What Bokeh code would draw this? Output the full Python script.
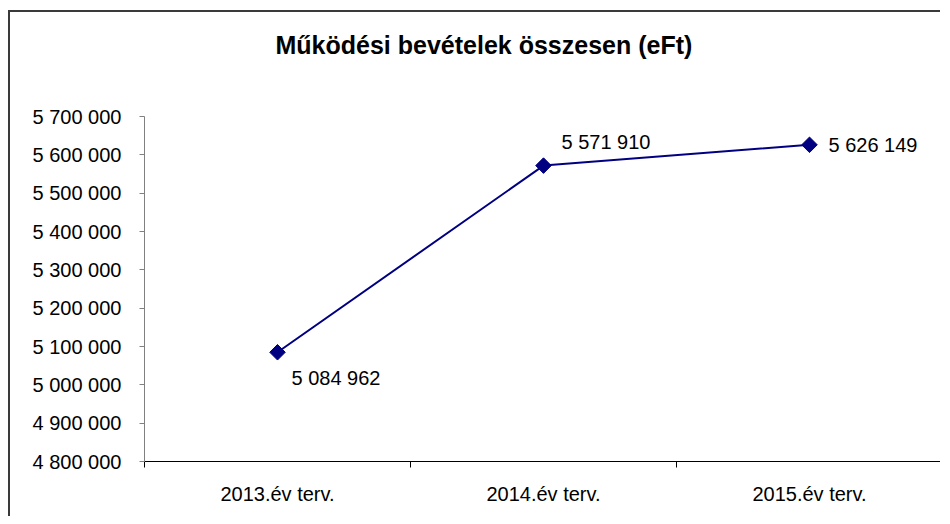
from bokeh.plotting import figure
from bokeh.models import (ColumnDataSource, FixedTicker, LabelSet, Title,
                          CustomJSTickFormatter, Range1d)
from bokeh.core.properties import value
from bokeh.embed import file_html
from bokeh.resources import INLINE
import math

# ---- data ----
categories = ["2013.év terv.", "2014.év terv.", "2015.év terv."]
values = [5084962, 5571910, 5626149]
y_ticks = [4800000, 4900000, 5000000, 5100000, 5200000, 5300000,
           5400000, 5500000, 5600000, 5700000]
title_text = "Működési bevételek összesen (eFt)"

# ---- styles ----
label_dx = [14, 18, 19]
label_dy = [-26, 24, 0]
FONT = "Liberation Sans"
NAVY = "#000080"

xs = [i + 0.5 for i in range(len(categories))]
labels = [f"{v:,}".replace(",", " ") for v in values]
src = ColumnDataSource(dict(x=xs, y=values, lab=labels, dx=label_dx, dy=label_dy))

p = figure(width=932, height=506, output_backend="svg", toolbar_location=None,
           x_range=Range1d(0, len(categories)), y_range=Range1d(y_ticks[0], y_ticks[-1]),
           min_border_left=134, min_border_right=0, min_border_top=104,
           min_border_bottom=57)
p.styles = {"margin-left": "8px", "margin-top": "10px",
            "border-left": "2px solid #3a3a3a", "border-top": "2px solid #3a3a3a"}
p.outline_line_color = None
p.xgrid.visible = False
p.ygrid.visible = False
p.background_fill_color = "white"
p.border_fill_color = "white"

# real title (outer panel)
p.title.text = title_text
p.title.text_font = FONT
p.title.text_font_size = "25px"
p.title.text_font_style = "bold"
p.title.text_color = "black"
p.title.align = "left"
p.title.offset = 131
p.title.standoff = 0

# spacer panel between the title and the plot frame
p.add_layout(Title(text=" ", text_font_size="1px", standoff=55), "above")

# x axis
xa = p.xaxis[0]
xa.ticker = FixedTicker(ticks=xs, minor_ticks=list(range(len(categories) + 1)))
xa.major_label_overrides = {x: c for x, c in zip(xs, categories)}
xa.major_tick_out = 0
xa.major_tick_in = 0
xa.minor_tick_out = 6
xa.minor_tick_in = 0
xa.minor_tick_line_color = "black"
xa.axis_line_color = "black"
xa.major_label_standoff = 15
xa.major_label_text_font = FONT
xa.major_label_text_font_size = "20px"
xa.major_label_text_color = "black"

# y axis
ya = p.yaxis[0]
ya.ticker = FixedTicker(ticks=y_ticks)
ya.formatter = CustomJSTickFormatter(code="return tick.toFixed(0).replace(/\\B(?=(\\d{3})+(?!\\d))/g, ' ');")
ya.major_tick_out = 5
ya.major_tick_in = 0
ya.minor_tick_out = 0
ya.minor_tick_in = 0
ya.axis_line_color = "#808080"
ya.major_tick_line_color = "#808080"
ya.major_label_standoff = 18
ya.major_label_text_font = FONT
ya.major_label_text_font_size = "20px"
ya.major_label_text_color = "black"

# line + markers
p.line("x", "y", source=src, line_color=NAVY, line_width=2)
p.scatter("x", "y", source=src, marker="square", size=11, angle=math.pi / 4,
          fill_color=NAVY, line_color=NAVY)

p.add_layout(LabelSet(x="x", y="y", text="lab", source=src, x_offset="dx", y_offset="dy",
                      text_font=value(FONT), text_font_size="20px", text_color="black",
                      text_baseline="middle", text_align="left"))

open("out.html", "w").write(file_html(p, INLINE))
